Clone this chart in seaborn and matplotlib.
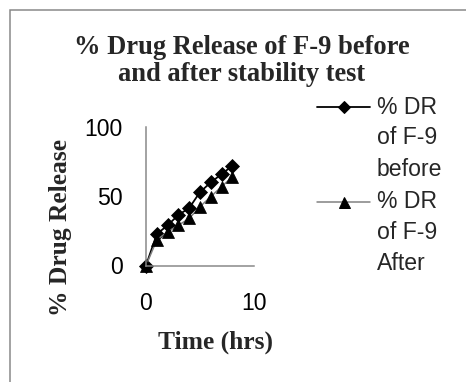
import matplotlib
matplotlib.use("Agg")
import matplotlib.pyplot as plt
import seaborn as sns
import pandas as pd
from matplotlib.lines import Line2D
from matplotlib.patches import Rectangle

# ---- data ----
time_hrs = [0, 1, 2, 3, 4, 5, 6, 7, 8]
dr_before = [0, 22.7, 29, 36.5, 41.5, 53, 60, 66, 72]
dr_after = [0, 18.4, 24.4, 29, 34, 42.5, 49.7, 57, 64]
series_names = [["% DR", "of F-9", "before"], ["% DR", "of F-9", "After"]]
x_ticks = [0, 10]
y_ticks = [0, 50, 100]
title = "% Drug Release of F-9 before\nand after stability test"
x_label = "Time (hrs)"
y_label = "% Drug Release"

sns.set_style("white")
plt.rcParams["font.family"] = ["Liberation Sans", "DejaVu Sans"]

W, H = 466, 382
fig = plt.figure(figsize=(W / 72, H / 72), dpi=72)
fig.patch.set_facecolor("white")

def fx(px):
    return px / W

def fy(py):
    return 1 - py / H

ax_l, ax_r, ax_t, ax_b = 146, 254, 127, 265.5
ax = fig.add_axes([fx(ax_l), fy(ax_b), fx(ax_r) - fx(ax_l), fy(ax_t) - fy(ax_b)])

df_b = pd.DataFrame({"t": time_hrs, "v": dr_before})
df_a = pd.DataFrame({"t": time_hrs, "v": dr_after})
sns.lineplot(data=df_b, x="t", y="v", ax=ax, color="black", lw=1.8,
             marker="D", markersize=10, markeredgecolor="black", clip_on=False)
sns.lineplot(data=df_a, x="t", y="v", ax=ax, color="#7f7f7f", lw=1.5,
             marker="^", markersize=12, markerfacecolor="black",
             markeredgecolor="black", clip_on=False)

ax.set_xlim(0, 10)
ax.set_ylim(0, 100)
ax.set_xticks(x_ticks)
ax.set_yticks(y_ticks)
ax.set_xlabel("")
ax.set_ylabel("")
for s in ["top", "right"]:
    ax.spines[s].set_visible(False)
for s in ["left", "bottom"]:
    ax.spines[s].set_color("#868686")
    ax.spines[s].set_linewidth(1.5)
ax.tick_params(axis="both", direction="out", length=8, width=1.5,
               color="#868686", labelsize=23, labelcolor="black")
ax.tick_params(axis="y", pad=15)
ax.tick_params(axis="x", pad=19)

serif = ["Liberation Serif", "DejaVu Serif"]
fig.text(fx(242), fy(61), title, ha="center", va="center", fontsize=26.5,
         fontweight="bold", family=serif, linespacing=1.07)
fig.text(fx(60), fy(227), y_label, ha="center", va="center", rotation=90,
         fontsize=25.5, fontweight="bold", family=serif)
fig.text(fx(216), fy(342), x_label, ha="center", va="center", fontsize=25.5,
         fontweight="bold", family=serif)

# legend (drawn manually so each handle sits at the first line of its label)
leg_y = [107, 202]
line_step = 31
styles = [dict(color="black", lw=1.8, marker="D", ms=8, mfc="black", mec="black"),
          dict(color="#7f7f7f", lw=1.5, marker="^", ms=11, mfc="black", mec="black")]
for lines, yy, st in zip(series_names, leg_y, styles):
    fig.add_artist(Line2D([fx(317), fx(370)], [fy(yy), fy(yy)], transform=fig.transFigure,
                          color=st["color"], lw=st["lw"]))
    fig.add_artist(Line2D([fx(344)], [fy(yy)], transform=fig.transFigure, ls="none",
                          marker=st["marker"], ms=st["ms"], mfc=st["mfc"], mec=st["mec"]))
    for i, txt in enumerate(lines):
        fig.text(fx(377), fy(yy + i * line_step), txt, ha="left", va="center",
                 fontsize=23, transform=fig.transFigure)

# chart border (frame continues beyond the visible image)
fig.add_artist(Rectangle((fx(10), fy(400)), fx(470) - fx(10), fy(10) - fy(400),
                         transform=fig.transFigure, fill=False, edgecolor="#868686",
                         lw=1.5, clip_on=False))

fig.savefig("out.png", dpi=72, facecolor="white")
